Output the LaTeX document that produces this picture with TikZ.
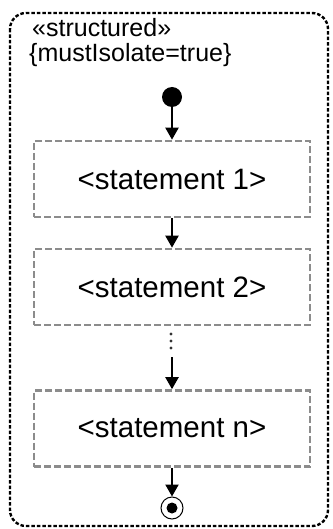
\documentclass[tikz,border=0pt]{standalone}
\usepackage{fontspec}
\setmainfont{Liberation Sans}
\usetikzlibrary{arrows.meta}
\begin{document}
\begin{tikzpicture}[x=1pt,y=-1pt,
  stmt/.style={draw=gray!90, line width=2.6pt, dash pattern=on 7pt off 3pt, minimum width=276pt, minimum height=76pt, inner sep=0pt, font=\fontsize{29.5}{32}\selectfont},
  flow/.style={draw=black, line width=2.2pt, -{Triangle[length=12pt,width=13pt]}},
  lbl/.style={anchor=base west, inner sep=0pt, font=\fontsize{25}{28}\selectfont},
  dot/.style={circle, fill=black!80, minimum size=3.2pt, inner sep=0pt}]
\useasboundingbox (0,0) rectangle (332,529);
\draw[line width=2.4pt, dash pattern=on 3.5pt off 2pt, rounded corners=16pt] (10,13) rectangle (328,526);
\node[lbl] (st) at (32,37) {«structured»};
\node[lbl] (ms) at (29,62) {\{mustIsolate=true\}};
\node[circle, fill=black, minimum size=20pt, inner sep=0pt] (init) at (172,97) {};
\node[stmt] (s1) at (172,179) {<statement 1>};
\node[stmt] (s2) at (172,287) {<statement 2>};
\node[stmt] (sn) at (172,428.5) {<statement n>};
\node[circle, draw=black, line width=1pt, minimum size=22pt, inner sep=0pt] (fin) at (172,508) {};
\node[circle, fill=black, minimum size=11pt, inner sep=0pt] (finc) at (fin.center) {};
\node[dot] (d1) at (171,334) {};
\node[dot] (d2) at (171,341) {};
\node[dot] (d3) at (171,348) {};
\coordinate (dstart) at (172,357);
\draw[flow] (init) -- (s1);
\draw[flow] (s1) -- (s2);
\draw[flow] (dstart) -- (sn);
\draw[flow] (sn) -- (fin);
\end{tikzpicture}
\end{document}
